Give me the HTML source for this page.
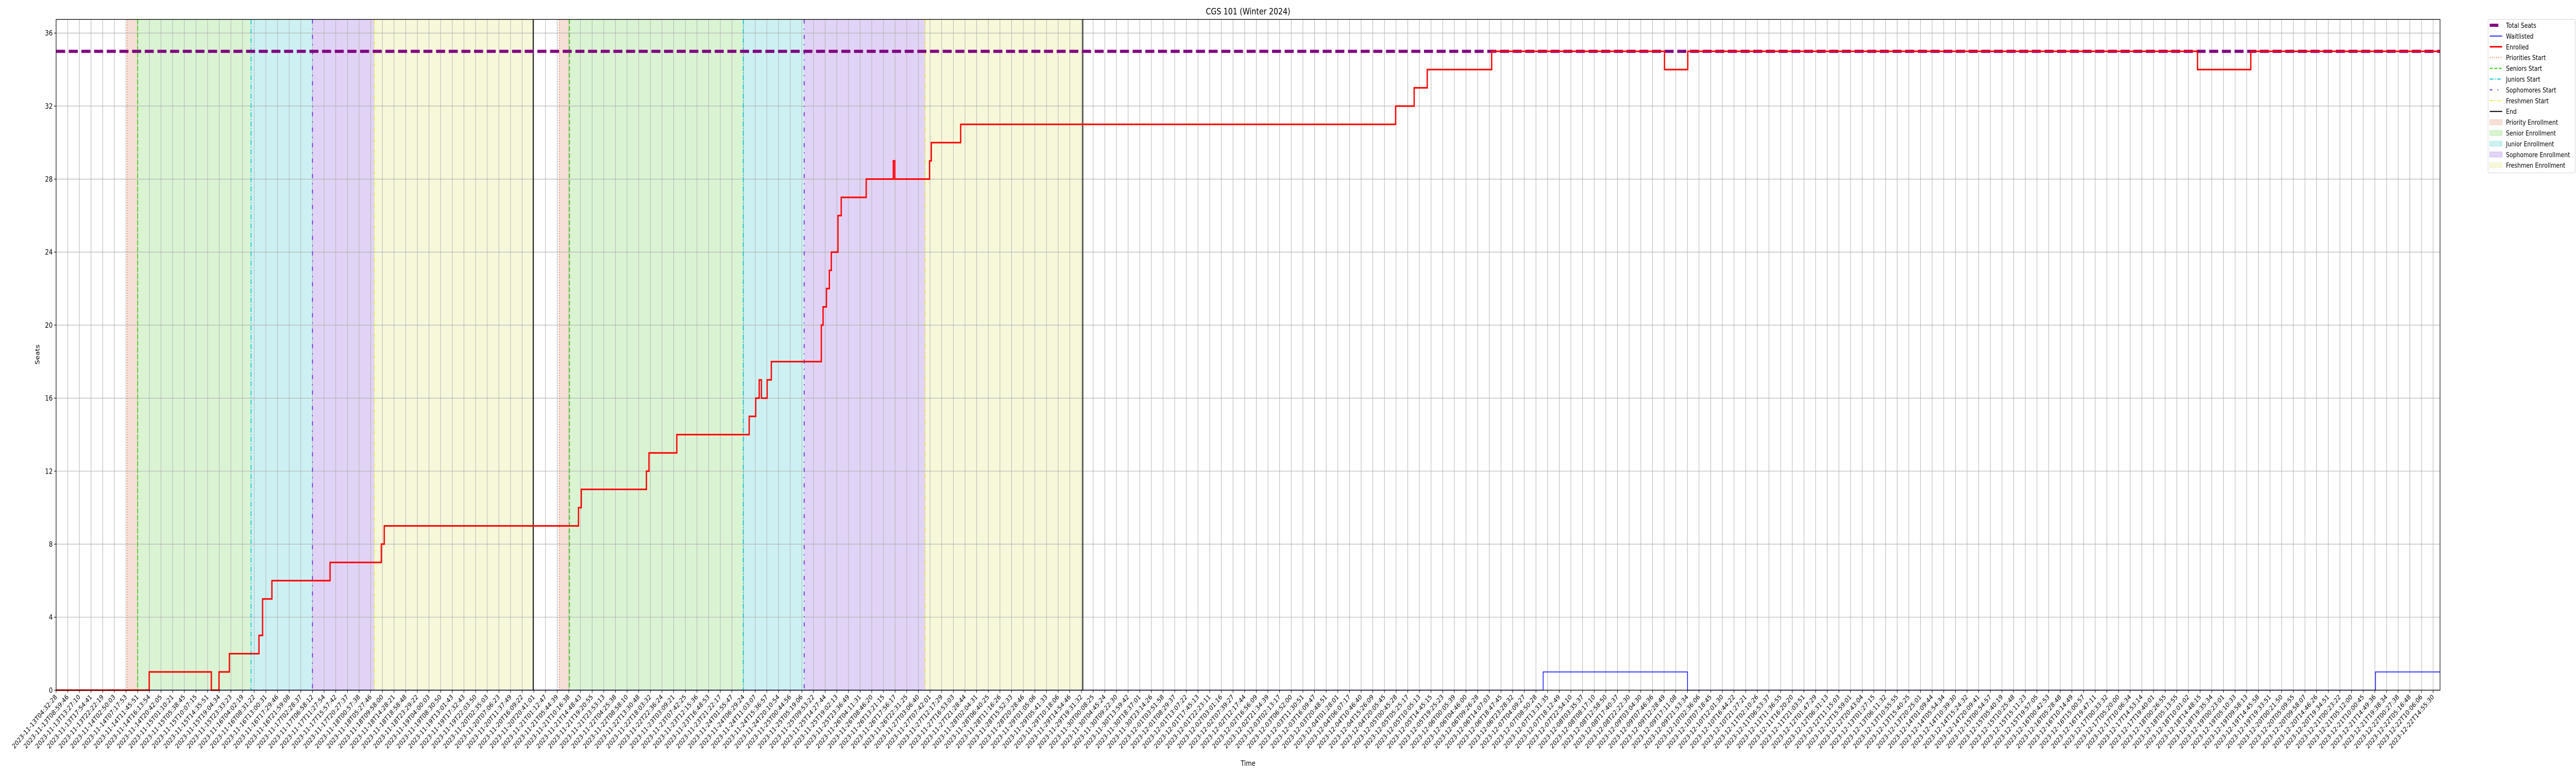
<!DOCTYPE html>
<html>
<head>
<meta charset="utf-8">
<style>
  html,body{margin:0;padding:0;background:#fff;width:100%;height:100%;overflow:hidden;}
  svg{display:block;font-family:"DejaVu Sans","Liberation Sans",sans-serif;overflow:hidden;width:100vw;height:100vh;position:fixed;left:0;top:0;}
</style>
</head>
<body>
<svg id="chart" xmlns="http://www.w3.org/2000/svg" viewBox="0 0 6000 1500" preserveAspectRatio="none">
  <rect x="0" y="0" width="6000" height="1500" fill="#fff"/>
  <text x="2907" y="28" font-size="17" text-anchor="middle" fill="#000">CGS 101 (Winter 2024)</text>
  <g id="spans"></g>
  <g id="grid"></g>
  <g id="vlines"></g>
  <g id="series"></g>
  <g id="axes"></g>
  <text x="0" y="0" font-size="14" text-anchor="middle" transform="translate(92,688) rotate(-90)">Seats</text>
  <text x="2907" y="1486" font-size="14" text-anchor="middle">Time</text>
  <g id="legend"></g>
</svg>
<script>
// ---- data (x in tick-index units, y in seats) ----
const totalSeats = 35;
const enrolledX = [0, 7.99, 13.32, 13.98, 14.87, 17.41, 17.72, 18.52, 23.51, 27.91, 28.16, 44.83, 45.07, 50.66, 50.88, 53.27, 59.48, 60.04, 60.34, 60.53, 61.02, 61.38, 65.67, 65.82, 66.11, 66.36, 66.53, 67.1, 67.38, 69.52, 71.85, 71.98, 74.96, 75.11, 77.63, 114.96, 116.55, 117.67, 123.2, 138.03, 140.03, 183.78, 188.35];
const enrolledY = [0, 1, 0, 1, 2, 3, 5, 6, 7, 8, 9, 10, 11, 12, 13, 14, 15, 16, 17, 16, 17, 18, 20, 21, 22, 23, 24, 26, 27, 28, 29, 28, 29, 30, 31, 32, 33, 34, 35, 34, 35, 34, 35];
const waitX = [0, 127.62, 140.01, 199.05];
const waitY = [0, 1, 0, 1];
const prioritiesStart = [6.11, 43.18];
const seniorsStart = [7.0, 44.06];
const juniorsStart = [16.73, 58.97];
const sophomoresStart = [22.0, 64.2];
const freshmenStart = [27.31, 74.59];
const endTimes = [40.94, 88.11];
const yTicks = [0, 4, 8, 12, 16, 20, 24, 28, 32, 36];
const tickCount = 205;
const tickStartUTC = Date.UTC(2023, 10, 13, 4, 32, 28);
const tickEndUTC = Date.UTC(2023, 11, 22, 14, 55, 30);

// ---- axes ----
const PL = 130.7, PR = 5683.3, PT = 37.6, PB = 1339.3;
const DX = 27.14;
const YMAX = 36.75;
const xMax = (PR - PL) / DX;
function xs(i){ return PL + i * DX; }
function ys(v){ return PB - v / YMAX * (PB - PT); }

const NS = "http://www.w3.org/2000/svg";
function mk(tag, attrs, parent){
  const e = document.createElementNS(NS, tag);
  for (const k in attrs) e.setAttribute(k, attrs[k]);
  parent.appendChild(e);
  return e;
}
const gSpans = document.getElementById('spans');
const gGrid = document.getElementById('grid');
const gV = document.getElementById('vlines');
const gS = document.getElementById('series');
const gA = document.getElementById('axes');
const gL = document.getElementById('legend');

// tick labels
function pad(n){ return String(n).padStart(2,'0'); }
const tickLabels = [];
(function(){
  const totalH = (tickEndUTC - tickStartUTC) / 3600000;
  const n = tickCount - 1;
  const a = 4.455;
  const b = (totalH - n * a) / (n * (n - 1) / 2);
  let h = 0;
  for (let k = 0; k < tickCount; k++){
    const d = new Date(tickStartUTC + h * 3600000);
    tickLabels.push(d.getUTCFullYear() + '-' + pad(d.getUTCMonth()+1) + '-' + pad(d.getUTCDate()) + 'T' + pad(d.getUTCHours()) + ':' + pad(d.getUTCMinutes()) + ':' + pad(d.getUTCSeconds()));
    h += a + b * k;
  }
  tickLabels[n] = '2023-12-22T14:55:30';
})();

// spans
const spanDefs = [
  {starts: prioritiesStart, ends: seniorsStart, fill: '#f6dfd6', name: 'priority-enrollment-span'},
  {starts: seniorsStart, ends: juniorsStart, fill: '#daf4d3', name: 'senior-enrollment-span'},
  {starts: juniorsStart, ends: sophomoresStart, fill: '#cdf1f3', name: 'junior-enrollment-span'},
  {starts: sophomoresStart, ends: freshmenStart, fill: '#e1d3f5', name: 'sophomore-enrollment-span'},
  {starts: freshmenStart, ends: endTimes, fill: '#f7f8da', name: 'freshmen-enrollment-span'}
];
spanDefs.forEach(s => {
  for (let r = 0; r < s.starts.length; r++){
    const el = mk('rect', {x: xs(s.starts[r]), y: PT, width: xs(s.ends[r]) - xs(s.starts[r]), height: PB - PT, fill: s.fill}, gSpans);
    
    
  }
});

// grid
for (let i = 0; i < tickCount; i++){
  const el = mk('line', {x1: xs(i), x2: xs(i), y1: PT, y2: PB, stroke: '#b0b0b0', 'stroke-width': 1.1}, gGrid);
  
  
}
yTicks.forEach(v => {
  const el = mk('line', {x1: PL, x2: PR, y1: ys(v), y2: ys(v), stroke: '#b0b0b0', 'stroke-width': 1.1}, gGrid);
  
  
});

// vertical phase lines
const vDefs = [
  {xs: prioritiesStart, stroke: '#ff6a2a', dash: '2,3', w: 1.6, name: 'priorities-start-line'},
  {xs: seniorsStart, stroke: '#33cc11', dash: '9,4', w: 2, name: 'seniors-start-line'},
  {xs: juniorsStart, stroke: '#11c8d0', dash: '10,3,2,3', w: 2, name: 'juniors-start-line'},
  {xs: sophomoresStart, stroke: '#6622dd', dash: '8,10,2,10', w: 2, name: 'sophomores-start-line'},
  {xs: freshmenStart, stroke: '#e6e622', dash: '8,3,2,3,2,3', w: 1.6, name: 'freshmen-start-line'},
  {xs: endTimes, stroke: '#000', dash: 'none', w: 2, name: 'end-line'}
];
vDefs.forEach(d => {
  d.xs.forEach(v => {
    const el = mk('line', {x1: xs(v), x2: xs(v), y1: PT, y2: PB, stroke: d.stroke, 'stroke-width': d.w, 'stroke-dasharray': d.dash}, gV);
    
    
  });
});

// series
function stepPath(X, Y){
  let d = 'M' + xs(X[0]) + ',' + ys(Y[0]);
  for (let k = 1; k < X.length; k++){
    d += ' L' + xs(X[k]) + ',' + ys(Y[k-1]) + ' L' + xs(X[k]) + ',' + ys(Y[k]);
  }
  d += ' L' + xs(xMax) + ',' + ys(Y[Y.length-1]);
  return d;
}
const seatsLine = mk('line', {x1: PL, x2: PR, y1: ys(totalSeats), y2: ys(totalSeats), stroke: '#800080', 'stroke-width': 6, 'stroke-dasharray': '21,8.5'}, gS);


const waitPath = mk('path', {d: stepPath(waitX, waitY), fill: 'none', stroke: '#0000ff', 'stroke-width': 1.6}, gS);


const enrPath = mk('path', {d: stepPath(enrolledX, enrolledY), fill: 'none', stroke: '#ff0000', 'stroke-width': 3}, gS);



// axes frame, ticks, labels
const frame = mk('rect', {x: PL, y: PT, width: PR - PL, height: PB - PT, fill: 'none', stroke: '#000', 'stroke-width': 1.3}, gA);


yTicks.forEach(v => {
  const t = mk('line', {x1: PL - 5, x2: PL, y1: ys(v), y2: ys(v), stroke: '#000', 'stroke-width': 1.1}, gA);
  
  
  const l = mk('text', {x: PL - 8, y: ys(v) + 5, 'font-size': 14, 'text-anchor': 'end'}, gA);
  l.textContent = String(v);
  
  
});
for (let i = 0; i < tickCount; i++){
  const t = mk('line', {x1: xs(i), x2: xs(i), y1: PB, y2: PB + 5, stroke: '#000', 'stroke-width': 1.1}, gA);
  
  
  const l = mk('text', {x: 0, y: 0, 'font-size': 13, 'text-anchor': 'end', transform: 'translate(' + (xs(i) + 3) + ',' + (PB + 14) + ') rotate(-45)'}, gA);
  l.textContent = tickLabels[i];
  
  
}

// legend
const LX = 5795, LY = 37.5;
const box = mk('rect', {x: LX, y: LY, width: 203, height: 298, rx: 3, fill: '#fff', stroke: '#d6d6d6', 'stroke-width': 1.1}, gL);


const legendItems = [
  {label: 'Total Seats', type: 'line', stroke: '#800080', w: 6, dash: '20,30'},
  {label: 'Waitlisted', type: 'line', stroke: '#0000ff', w: 1.6, dash: 'none'},
  {label: 'Enrolled', type: 'line', stroke: '#ff0000', w: 3, dash: 'none'},
  {label: 'Priorities Start', type: 'line', stroke: '#ff6a2a', w: 1.6, dash: '2,3'},
  {label: 'Seniors Start', type: 'line', stroke: '#33cc11', w: 2, dash: '7,3.5'},
  {label: 'Juniors Start', type: 'line', stroke: '#11c8d0', w: 2, dash: '9,3,2,3'},
  {label: 'Sophomores Start', type: 'line', stroke: '#6622dd', w: 2, dash: '6,12,2,12'},
  {label: 'Freshmen Start', type: 'line', stroke: '#e6e622', w: 1.6, dash: '7,2.5,2,2.5,2,2.5'},
  {label: 'End', type: 'line', stroke: '#000', w: 2, dash: 'none'},
  {label: 'Priority Enrollment', type: 'patch', fill: '#f6dfd6', edge: '#f0cfc2'},
  {label: 'Senior Enrollment', type: 'patch', fill: '#daf4d3', edge: '#c6ecbd'},
  {label: 'Junior Enrollment', type: 'patch', fill: '#cdf1f3', edge: '#b7e9ec'},
  {label: 'Sophomore Enrollment', type: 'patch', fill: '#e1d3f5', edge: '#d2bff0'},
  {label: 'Freshmen Enrollment', type: 'patch', fill: '#f7f8da', edge: '#eff1c4'}
];
legendItems.forEach((it, k) => {
  const cy = 49 + k * 20.9;
  if (it.type === 'line'){
    const h = mk('line', {x1: 5799, x2: 5828, y1: cy, y2: cy, stroke: it.stroke, 'stroke-width': it.w, 'stroke-dasharray': it.dash}, gL);
    
    
  } else {
    const h = mk('rect', {x: 5799, y: cy - 5, width: 29, height: 10, fill: it.fill, stroke: it.edge, 'stroke-width': 1}, gL);
    
    
  }
  const t = mk('text', {x: 5837, y: cy + 5, 'font-size': 13}, gL);
  t.textContent = it.label;
  
  
});
</script>
</body>
</html>
